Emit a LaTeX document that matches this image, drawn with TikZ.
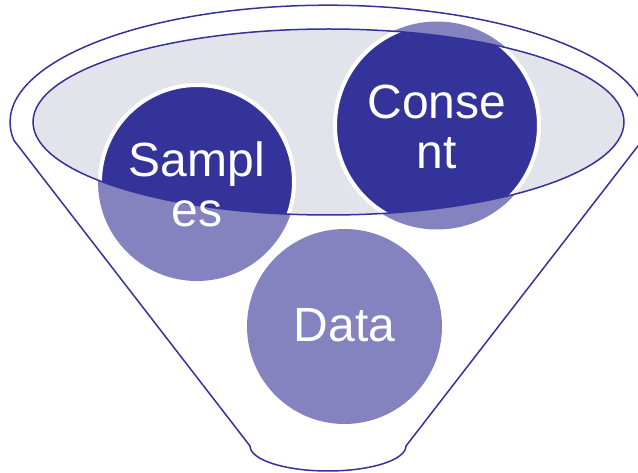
\documentclass[tikz,border=0pt]{standalone}
\usepackage{fontspec}
\setmainfont{Liberation Sans}
\definecolor{darkblue}{RGB}{51,51,153}
\definecolor{lightblue}{RGB}{132,131,191}
\definecolor{funnelgray}{RGB}{227,227,235}
\tikzset{
  outline/.style={draw=darkblue, line width=1.5pt},
  lightdisc/.style={circle, fill=lightblue, inner sep=0pt},
  darkdisc/.style={fill=darkblue, draw=white, line width=4pt},
  label/.style={text=white, align=center, inner sep=0pt, font=\fontsize{48}{50}\selectfont}
}
\begin{document}
\begin{tikzpicture}[x=1pt, y=-1pt]
\useasboundingbox (0,0) rectangle (638,473);
\clip (0,0) rectangle (638,473);
% funnel outer outline
\draw[outline, fill=white] (250,446) -- (14,140.5)
  arc[start angle=171, end angle=369, x radius=318, y radius=117]
  -- (406,446)
  arc[start angle=0, end angle=180, x radius=78, y radius=25] -- cycle;
% light circles
\node[lightdisc, minimum size=198pt] (samples) at (197,182) {};
\node[lightdisc, minimum size=208pt] (consent) at (437,125.5) {};
\node[lightdisc, minimum size=195pt] (data) at (344.5,326.5) {};
% inner ellipse
\fill[funnelgray] (328.5,122) ellipse [x radius=295.5, y radius=93];
\begin{scope}
  \clip (328.5,122) ellipse [x radius=295.5, y radius=93];
  \filldraw[darkdisc] (samples.center) circle (97);
  \filldraw[darkdisc] (consent.center) circle (102);
\end{scope}
\draw[outline] (328.5,122) ellipse [x radius=295.5, y radius=93];
% labels
\node[label] (samplestext) at ([yshift=-2pt]samples.center) {Sampl\\es};
\node[label] (consenttext) at ([yshift=-1pt]consent.center) {Conse\\nt};
\node[label] (datatext) at ([yshift=1pt]data.center) {Data};
\end{tikzpicture}
\end{document}
